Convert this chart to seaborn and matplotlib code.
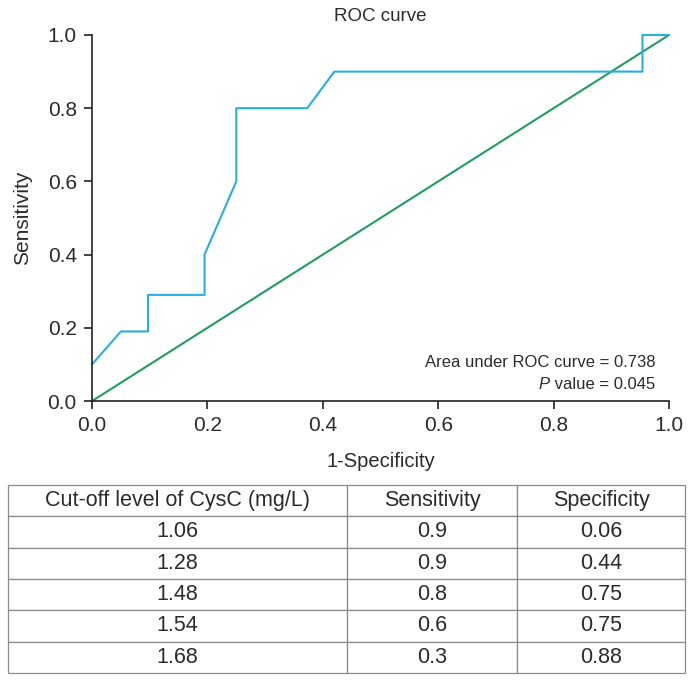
import matplotlib
matplotlib.use("Agg")
import matplotlib.pyplot as plt
import seaborn as sns
import pandas as pd

# ROC curve data (1-Specificity, Sensitivity)
roc_fpr = [0.0, 0.05, 0.097, 0.097, 0.195, 0.195, 0.25, 0.25, 0.373, 0.42, 0.954, 0.954, 1.0]
roc_tpr = [0.1, 0.19, 0.19, 0.29, 0.29, 0.4, 0.6, 0.8, 0.8, 0.9, 0.9, 1.0, 1.0]
ref_x = [0.0, 1.0]
ref_y = [0.0, 1.0]

# Table data
col_labels = ["Cut-off level of CysC (mg/L)", "Sensitivity", "Specificity"]
cutoffs = ["1.06", "1.28", "1.48", "1.54", "1.68"]
sensitivity = ["0.9", "0.9", "0.8", "0.6", "0.3"]
specificity = ["0.06", "0.44", "0.75", "0.75", "0.88"]

auc_text = "Area under ROC curve = 0.738"
p_text = " value = 0.045"

sns.set_theme(style="ticks")
plt.rcParams["font.family"] = ["Liberation Sans", "DejaVu Sans"]
TXT = "#2b2b2b"

fig = plt.figure(figsize=(6.93, 6.82), dpi=100)
ax = fig.add_axes([0.1328, 0.412, 0.8326, 0.5367])

roc_df = pd.DataFrame({"fpr": roc_fpr, "tpr": roc_tpr})
ref_df = pd.DataFrame({"x": ref_x, "y": ref_y})
sns.lineplot(data=ref_df, x="x", y="y", ax=ax, color="#1f9e5e", lw=1.5, sort=False,
             estimator=None)
sns.lineplot(data=roc_df, x="fpr", y="tpr", ax=ax, color="#2aaee0", lw=1.5, sort=False,
             estimator=None)
for l in ax.lines:
    l.set_clip_on(False)

ax.set_xlim(0, 1)
ax.set_ylim(0, 1)
ax.set_xticks([0, 0.2, 0.4, 0.6, 0.8, 1.0])
ax.set_yticks([0, 0.2, 0.4, 0.6, 0.8, 1.0])
ax.set_xticklabels(["0.0", "0.2", "0.4", "0.6", "0.8", "1.0"])
ax.set_yticklabels(["0.0", "0.2", "0.4", "0.6", "0.8", "1.0"])
sns.despine(ax=ax)
for s in ["left", "bottom"]:
    ax.spines[s].set_color("#222222")
    ax.spines[s].set_linewidth(1.2)
ax.tick_params(axis="both", direction="out", length=6, width=1.2, colors="#222222",
               labelsize=15, labelcolor=TXT, pad=5)
ax.set_xlabel("1-Specificity", fontsize=14.5, color=TXT, labelpad=12)
ax.set_ylabel("Sensitivity", fontsize=15, color=TXT, labelpad=11)
ax.set_title("ROC curve", fontsize=13.5, color=TXT, pad=10)

ax.text(0.976, 0.085, auc_text, transform=ax.transAxes, ha="right", va="bottom",
        fontsize=12, color=TXT)
t = ax.text(0.976, 0.025, p_text, transform=ax.transAxes, ha="right", va="bottom",
            fontsize=12, color=TXT)
ax.annotate("P", xy=(0, 0), xycoords=t, ha="right", va="bottom", fontsize=12,
            color=TXT, style="italic")

# Table
tax = fig.add_axes([0.0115, 0.0132, 0.977, 0.2757])
tax.axis("off")
cells = [[c, s, p] for c, s, p in zip(cutoffs, sensitivity, specificity)]
tbl = tax.table(cellText=cells, colLabels=col_labels, cellLoc="center",
                colWidths=[339, 170, 168], bbox=[0, 0, 1, 1])
tbl.auto_set_font_size(False)
tbl.set_fontsize(15.5)
for (r, c), cell in tbl.get_celld().items():
    cell.set_edgecolor("#8a8a8a")
    cell.set_linewidth(0.9)
    cell.get_text().set_color(TXT)

fig.savefig("out.png", dpi=100)
